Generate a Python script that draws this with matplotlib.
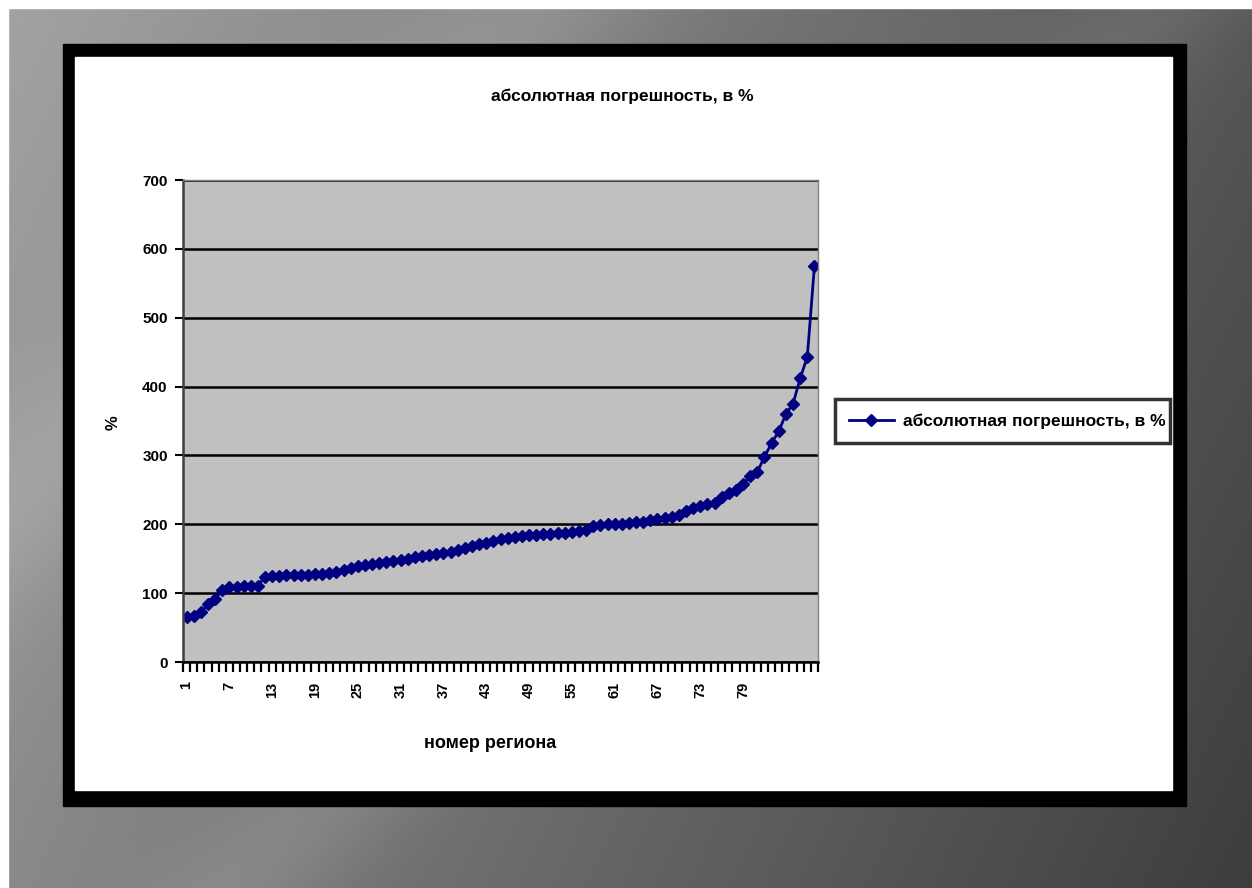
import numpy as np
import matplotlib
matplotlib.use("Agg")
import matplotlib.pyplot as plt
from matplotlib.patches import Rectangle
from matplotlib.lines import Line2D

plt.rcParams['font.family'] = ['Liberation Sans', 'DejaVu Sans']

# ---- data ----
title = "абсолютная погрешность, в %"
series_name = "абсолютная погрешность, в %"
x_label = "номер региона"
y_label = "%"
regions = list(range(1, 90))
values = [65, 67, 72, 84, 92, 104, 109, 109, 110, 110,
          111, 124, 125, 125, 126, 126, 126, 127, 128, 128,
          129, 131, 134, 136, 139, 141, 143, 144, 145, 147,
          148, 150, 152, 154, 155, 157, 158, 160, 162, 165,
          168, 171, 173, 176, 178, 180, 181, 183, 184, 185,
          186, 186, 187, 188, 189, 190, 192, 198, 199, 200,
          200, 201, 202, 203, 204, 206, 207, 209, 211, 214,
          219, 224, 227, 229, 231, 240, 246, 250, 258, 270,
          276, 298, 318, 335, 360, 375, 412, 443, 575]
y_ticks = [0, 100, 200, 300, 400, 500, 600, 700]
x_tick_labels = [1, 7, 13, 19, 25, 31, 37, 43, 49, 55, 61, 67, 73, 79]

W, H = 1252, 888
fig = plt.figure(figsize=(W / 100, H / 100), dpi=100)

# ---- slide background (gray gradient) ----
bg = fig.add_axes([0, 0, 1, 1])
bg.set_axis_off()
yy, xx = np.mgrid[0:H, 0:W]
u = xx / W
v = yy / H
base = 0.64 - 0.30 * u - 0.10 * v
d = u * 0.8 + v * 0.6
streak = 0.06 * np.exp(-((d - 0.35) / 0.08) ** 2) + 0.05 * np.exp(-((d - 0.75) / 0.06) ** 2)
img = np.clip(base + streak, 0, 1)
bg.imshow(np.dstack([img, img, img]), extent=[0, W, H, 0], aspect='auto')
bg.set_xlim(0, W)
bg.set_ylim(H, 0)
bg.add_patch(Rectangle((0, 0), W, 8, color='white'))
bg.add_patch(Rectangle((0, 0), 8, H, color='white'))
bg.add_patch(Rectangle((63, 44), 1123, 762, color='black'))
bg.add_patch(Rectangle((75, 57), 1097, 733, color='white'))

# ---- chart ----
L, R, T, B = 183, 818, 180, 662
ax = fig.add_axes([L / W, 1 - B / H, (R - L) / W, (B - T) / H])
ax.set_facecolor('#c0c0c0')
x = np.arange(len(values))
ax.plot(x, values, color='#000080', lw=2, marker='D', ms=6.5,
        mec='#000080', mfc='#000080')
ax.set_xlim(-0.5, len(values) - 0.5)
ax.set_ylim(0, 700)
ax.set_yticks(y_ticks)
ax.set_yticklabels([str(t) for t in y_ticks], fontsize=11, fontweight='bold')
ax.yaxis.grid(True, color='black', lw=1.8)
ax.set_axisbelow(True)
ax.tick_params(axis='y', length=6, width=1.5, direction='out', pad=5)
ax.set_xticks([regions.index(r) for r in x_tick_labels])
ax.set_xticklabels([str(r) for r in x_tick_labels], rotation=90,
                   fontsize=10.5, fontweight='bold')
ax.tick_params(axis='x', length=0, pad=14)
ax.set_xticks(np.arange(-0.5, len(values), 1), minor=True)
ax.tick_params(axis='x', which='minor', length=7, width=1.6, direction='out')
for s in ['top', 'right']:
    ax.spines[s].set_color('#808080')
    ax.spines[s].set_linewidth(1)
ax.spines['left'].set_color('#404040')
ax.spines['left'].set_linewidth(1.8)
ax.spines['bottom'].set_color('black')
ax.spines['bottom'].set_linewidth(1.8)

fig.text(622 / W, 1 - 96 / H, title, ha='center', va='center',
         fontsize=12.5, fontweight='bold')
fig.text(490 / W, 1 - 743 / H, x_label, ha='center', va='center',
         fontsize=13, fontweight='bold')
fig.text(113 / W, 1 - 423 / H, y_label, ha='center', va='center',
         fontsize=12, fontweight='bold', rotation=90)

# ---- legend ----
handle = Line2D([], [], color='#000080', lw=2, marker='D', ms=6.5)
leg = fig.legend([handle], [series_name], loc='center left',
                 bbox_to_anchor=(835 / W, 1 - 447 / H, 335 / W, 52 / H),
                 mode='expand', frameon=True, fancybox=False,
                 handlelength=2.6, handletextpad=0.5, borderpad=0.8,
                 borderaxespad=0, prop={'weight': 'bold', 'size': 12.5})
leg.get_frame().set_edgecolor('black')
leg.get_frame().set_linewidth(2.5)

fig.savefig('out.png', dpi=100)
